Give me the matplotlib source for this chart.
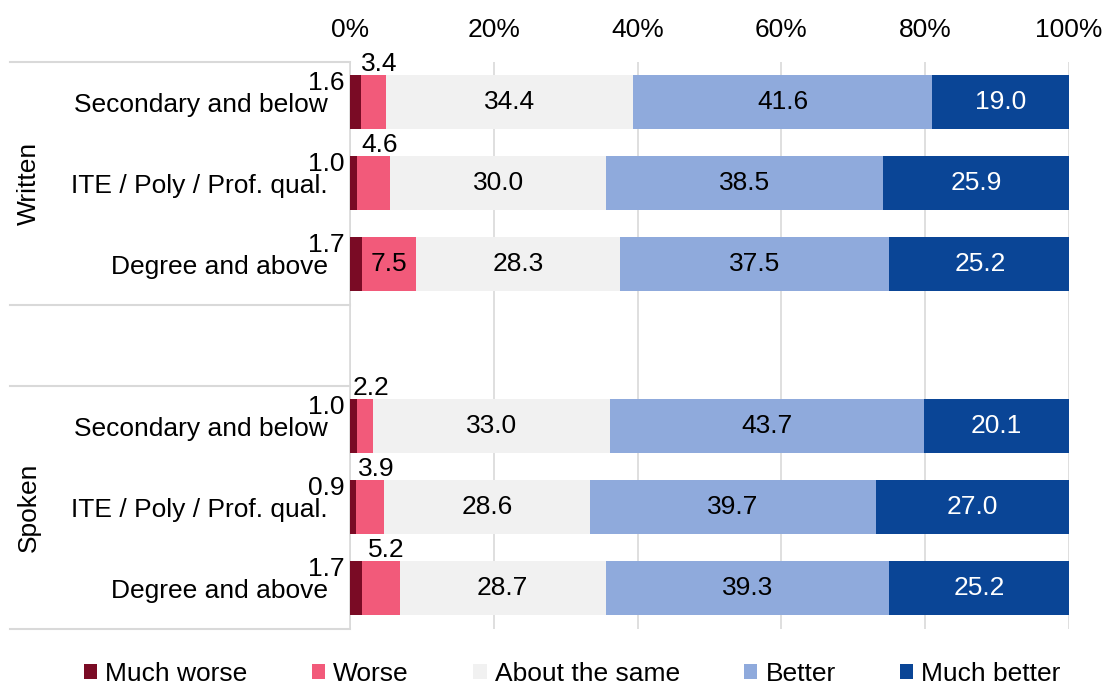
import matplotlib.pyplot as plt
import numpy as np

plt.rcParams['font.family'] = ['Liberation Sans', 'DejaVu Sans']

# rows, top to bottom (None = gap between groups)
rows = ["Secondary and below", "ITE / Poly / Prof. qual.", "Degree and above", None,
        "Secondary and below", "ITE / Poly / Prof. qual.", "Degree and above"]
groups = ["Written", "Spoken"]
series = ["Much worse", "Worse", "About the same", "Better", "Much better"]
much_worse = [1.6, 1.0, 1.7, 0, 1.0, 0.9, 1.7]
worse = [3.4, 4.6, 7.5, 0, 2.2, 3.9, 5.2]
same = [34.4, 30.0, 28.3, 0, 33.0, 28.6, 28.7]
better = [41.6, 38.5, 37.5, 0, 43.7, 39.7, 39.3]
much_better = [19.0, 25.9, 25.2, 0, 20.1, 27.0, 25.2]
colors = ["#7A0B25", "#F25A7A", "#F1F1F1", "#8FAADC", "#0A4596"]


def main():
    fig = plt.figure(figsize=(11.05, 6.89), dpi=100)
    ax = fig.add_axes([0.3167, 0.0878, 0.6507, 0.8229])
    fs = 19

    data = [much_worse, worse, same, better, much_better]
    y = np.arange(len(rows))
    left = np.zeros(len(rows))
    for vals, col, name in zip(data, colors, series):
        vals = np.array(vals, dtype=float)
        ax.barh(y, vals, left=left, height=0.667, color=col, label=name, zorder=3)
        for i, v in enumerate(vals):
            if rows[i] is None:
                continue
            cx = left[i] + v / 2
            if name == "Much worse":
                ax.annotate(f"{v:.1f}", (0, i - 0.333), xytext=(-4, -6), textcoords="offset points",
                            ha="right", va="center", fontsize=fs)
            elif name == "Worse" and v < 6:
                ax.annotate(f"{v:.1f}", (cx, i - 0.333), xytext=(4, 8), textcoords="offset points",
                            ha="center", va="center", fontsize=fs)
            else:
                tc = "white" if name == "Much better" else "black"
                ax.text(cx, i, f"{v:.1f}", ha="center", va="center", fontsize=fs, color=tc, zorder=4)
        left += vals

    ax.set_xlim(0, 100)
    ax.set_ylim(6.5, -0.5)
    ax.set_xticks(np.arange(0, 101, 20))
    ax.set_xticklabels([f"{t}%" for t in range(0, 101, 20)], fontsize=fs)
    ax.xaxis.tick_top()
    ax.tick_params(axis="x", length=0, pad=14)
    ax.set_yticks([i for i, r in enumerate(rows) if r is not None])
    ax.set_yticklabels([r for r in rows if r is not None], fontsize=fs)
    ax.tick_params(axis="y", length=0, pad=16)
    ax.grid(axis="x", color="#D9D9D9", linewidth=1.2, zorder=0)
    for s in ["top", "right", "bottom"]:
        ax.spines[s].set_visible(False)
    ax.spines["left"].set_color("#D9D9D9")
    ax.spines["left"].set_linewidth(1.2)

    # group separators and labels
    for yy in [-0.5, 2.5, 3.5, 6.5]:
        ax.plot([-0.473, 0], [yy, yy], transform=ax.get_yaxis_transform(), color="#D9D9D9",
                linewidth=1.5, clip_on=False)
    ax.text(-0.447, 1, groups[0], transform=ax.get_yaxis_transform(), rotation=90,
            ha="center", va="center", fontsize=fs)
    ax.text(-0.447, 5, groups[1], transform=ax.get_yaxis_transform(), rotation=90,
            ha="center", va="center", fontsize=fs)

    fig.legend(*ax.get_legend_handles_labels(), loc="center", bbox_to_anchor=(0.518, 0.022),
               ncol=5, frameon=False, fontsize=fs, handlelength=0.5, handleheight=0.5,
               handletextpad=0.3, columnspacing=2.45, borderpad=0)

    fig.savefig("out.png", dpi=100)


if __name__ == '__main__':
    main()
